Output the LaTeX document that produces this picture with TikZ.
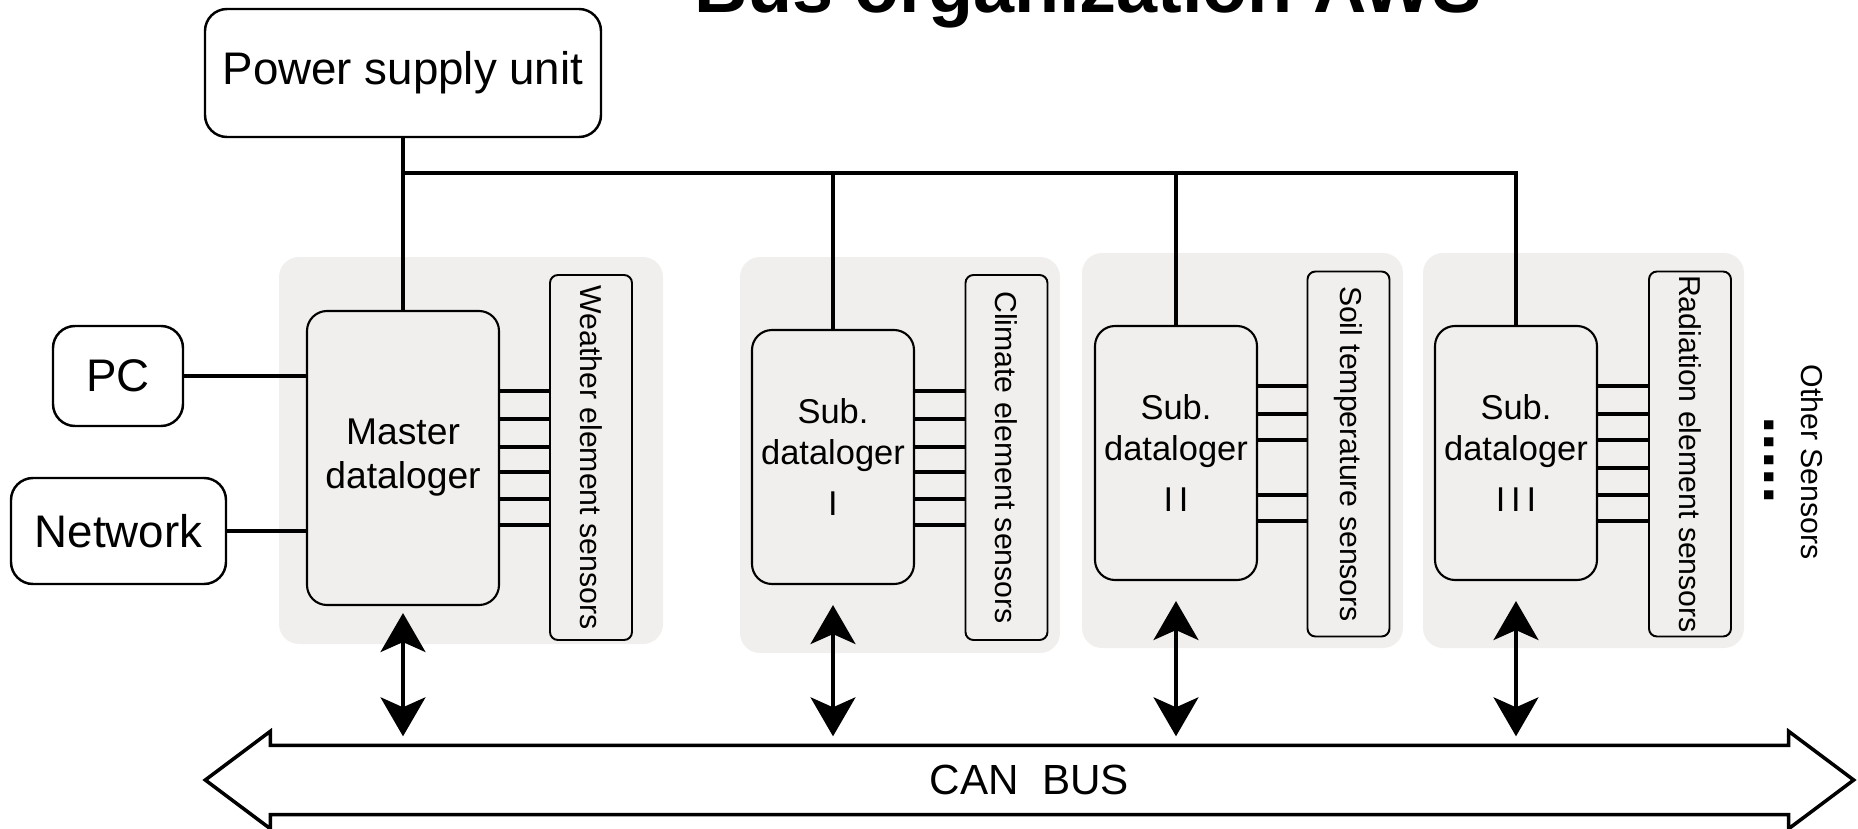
\documentclass[tikz,border=0pt]{standalone}
\usepackage{fontspec}
\setmainfont{Liberation Sans}
\usetikzlibrary{arrows.meta,calc}
\definecolor{panel}{HTML}{F1EFED}

\begin{document}
\begin{tikzpicture}[%
        wire/.style={line width=1pt},
        panelbox/.style={fill=panel, rounded corners=0.2cm, inner sep=0pt},
        unitbox/.style={draw, line width=0.7pt, rounded corners=0.22cm, align=center, inner sep=0pt, font=\fontsize{13}{15}\selectfont},
        loggerbox/.style={draw, fill=panel, line width=0.6pt, rounded corners=0.2cm, align=center, inner sep=0pt,
            minimum width=1.62cm, minimum height=2.54cm, font=\fontsize{9.8}{11.5}\selectfont},
        sensorbox/.style={draw, line width=0.55pt, rounded corners=0.08cm, rotate=-90, inner sep=0pt,
            minimum width=3.65cm, minimum height=0.82cm, font=\fontsize{8.6}{10}\selectfont},
        biarrow/.style={line width=0.9pt, {Stealth[length=0.39cm,width=0.45cm,inset=0.1cm]}-{Stealth[length=0.39cm,width=0.45cm,inset=0.1cm]}}
    ]
    \useasboundingbox (0,0) rectangle (18.58,-8.28);
    \clip (0,0) rectangle (18.58,-8.28);

    \node[font=\bfseries\fontsize{21}{21}\selectfont, anchor=base] (title) at (10.88,-0.125) {Bus organization AWS};

    % grey panels behind each logger
    \node[panelbox, minimum width=3.84cm, minimum height=3.87cm] (p1) at (4.71,-4.505) {};
    \node[panelbox, minimum width=3.20cm, minimum height=3.96cm] (p2) at (9.00,-4.55) {};
    \node[panelbox, minimum width=3.21cm, minimum height=3.95cm] (p3) at (12.425,-4.505) {};
    \node[panelbox, minimum width=3.21cm, minimum height=3.95cm] (p4) at (15.835,-4.505) {};

    \node[unitbox, minimum width=3.96cm, minimum height=1.28cm] (psu) at (4.03,-0.73) {Power supply unit};
    \node[unitbox, minimum width=1.30cm, minimum height=1.00cm] (pc) at (1.18,-3.76) {PC};
    \node[unitbox, minimum width=2.15cm, minimum height=1.06cm] (net) at (1.185,-5.31) {Network};

    \node[loggerbox, minimum width=1.92cm, minimum height=2.94cm, font=\fontsize{10.6}{12.5}\selectfont] (master) at (4.03,-4.58) {Master\\dataloger};
    \node[loggerbox] (sub1) at (8.33,-4.57) {Sub.\\dataloger\\[3pt]I};
    \node[loggerbox] (sub2) at (11.76,-4.53) {Sub.\\dataloger\\[3pt]I\,I};
    \node[loggerbox] (sub3) at (15.16,-4.53) {Sub.\\dataloger\\[3pt]I\,I\,I};

    \node[sensorbox] (wsens) at (5.91,-4.575) {Weather element sensors};
    \node[sensorbox] (csens) at (10.065,-4.575) {Climate element sensors};
    \node[sensorbox] (ssens) at (13.485,-4.54) {Soil temperature sensors};
    \node[sensorbox] (rsens) at (16.90,-4.54) {Radiation element sensors};

    \node[rotate=-90, font=\bfseries\fontsize{18}{18}\selectfont] (dots) at (17.69,-4.60) {.....};
    \node[rotate=-90, font=\fontsize{8.6}{10}\selectfont] (other) at (18.12,-4.62) {Other Sensors};

    \node[minimum width=15.17cm, minimum height=0.68cm, inner sep=0pt, font=\fontsize{12}{14}\selectfont] (bus) at (10.295,-7.80) {CAN\ \ BUS};
    \draw[line width=1pt] (bus.north west) -- (bus.north east) -- ++(0,0.14) -- ($(bus.east)+(0.65,0)$)
        -- ($(bus.south east)+(0,-0.14)$) -- (bus.south east) -- (bus.south west) -- ++(0,-0.14)
        -- ($(bus.west)+(-0.65,0)$) -- ($(bus.north west)+(0,0.14)$) -- cycle;

    % power line
    \draw[wire] (psu.south) -- (master.north);
    \coordinate (tap) at (4.03,-1.73);
    \draw[wire] (tap) -| (sub3.north);
    \foreach \s in {sub1,sub2}
        \draw[wire] (tap -| \s.north) -- (\s.north);

    \draw[wire] (pc.east) -- (pc.east -| master.west);
    \draw[wire] (net.east) -- (net.east -| master.west);

    % sensor leads
    \foreach \y in {3.91,4.19,4.47,4.72,4.99,5.25} {
        \draw[wire] (master.east |- 0,-\y) -- (wsens.south |- 0,-\y);
        \draw[wire] (sub1.east |- 0,-\y) -- (csens.south |- 0,-\y);
    }
    \foreach \y in {3.86,4.14,4.40,4.95,5.21}
        \draw[wire] (sub2.east |- 0,-\y) -- (ssens.south |- 0,-\y);
    \foreach \y in {3.86,4.14,4.40,4.68,4.95,5.21}
        \draw[wire] (sub3.east |- 0,-\y) -- (rsens.south |- 0,-\y);

    % links to the bus
    \draw[biarrow] ($(master.south)+(0,-0.07)$) -- ($(master.south |- bus.north)+(0,0.09)$);
    \foreach \s in {sub1,sub2,sub3}
        \draw[biarrow] ($(\s.south)+(0,-0.2)$) -- ($(\s.south |- bus.north)+(0,0.09)$);
\end{tikzpicture}
\end{document}
